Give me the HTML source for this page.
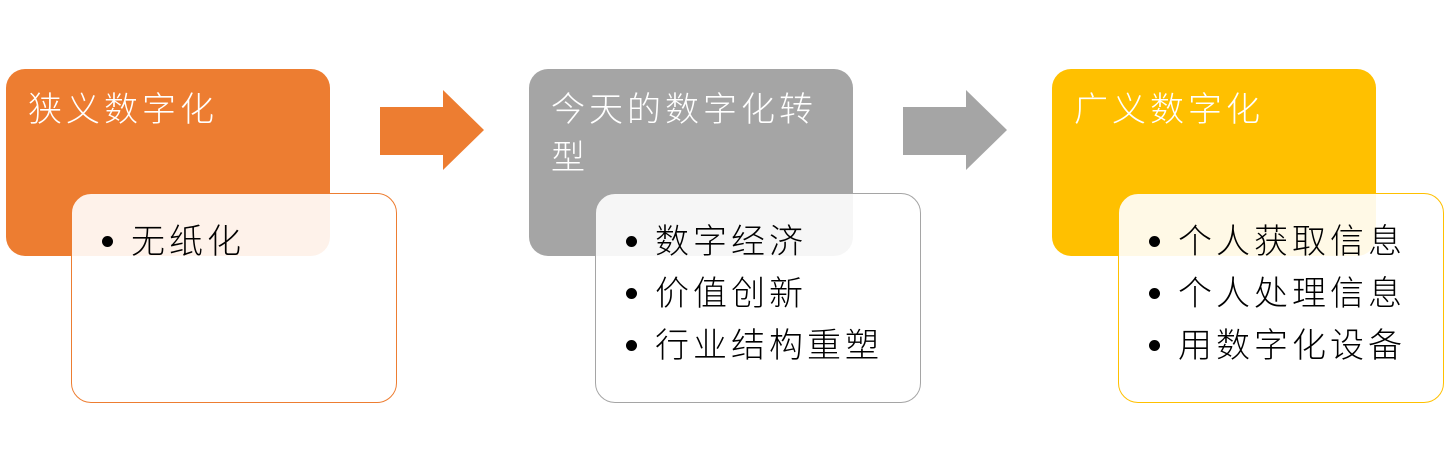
<!DOCTYPE html>
<html><head><meta charset="utf-8"><style>
body{margin:0;width:1444px;height:470px;background:#fff;position:relative;overflow:hidden;font-family:"Liberation Sans","Noto Sans CJK SC",sans-serif;font-weight:300}
.h{position:absolute;width:324px;height:187px;border-radius:19px}
.h span{position:absolute;left:22px;top:17px;color:#fff;font-size:34px;letter-spacing:4px;line-height:48px;width:280px}
.w{position:absolute;width:324px;height:208px;border-radius:20px;background:rgba(255,255,255,0.9);border:1px solid}
.w ul{margin:0;padding:0;list-style:none;position:absolute;left:30px;top:22px}
.w li{font-size:34px;letter-spacing:4px;line-height:52px;color:#000;white-space:nowrap}
.w li:before{content:"";display:inline-block;width:11px;height:11px;border-radius:50%;background:#000;margin-right:18px;vertical-align:middle;position:relative;top:-3px}
svg{position:absolute}
</style></head><body>
<div class="h" style="left:6px;top:69px;background:#ED7D31"><span>狭义数字化</span></div>
<div class="w" style="left:71px;top:193px;border-color:#ED7D31"><ul><li>无纸化</li></ul></div>
<svg style="left:380px;top:90px" width="105" height="81"><polygon points="0,17 63,17 63,0 104,40 63,80 63,65 0,65" fill="#ED7D31"/></svg>

<div class="h" style="left:529px;top:69px;background:#A5A5A5"><span>今天的数字化转型</span></div>
<div class="w" style="left:595px;top:193px;border-color:#A5A5A5"><ul><li>数字经济</li><li>价值创新</li><li>行业结构重塑</li></ul></div>
<svg style="left:903px;top:90px" width="105" height="81"><polygon points="0,17 63,17 63,0 104,40 63,80 63,65 0,65" fill="#A5A5A5"/></svg>

<div class="h" style="left:1052px;top:69px;background:#FFC000"><span>广义数字化</span></div>
<div class="w" style="left:1118px;top:193px;border-color:#FFC000"><ul><li>个人获取信息</li><li>个人处理信息</li><li>用数字化设备</li></ul></div>
</body></html>
